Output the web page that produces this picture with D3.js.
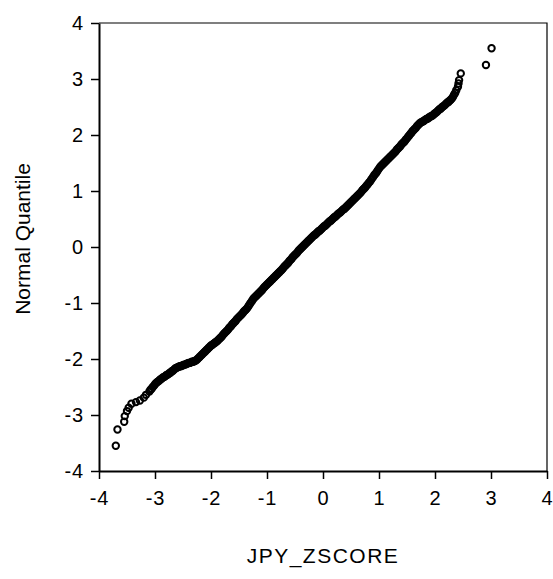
<!DOCTYPE html>
<html>
<head>
<meta charset="utf-8">
<script src="https://cdn.jsdelivr.net/npm/d3@7"></script>
<style>
  body { margin: 0; background: #fff; }
  svg text { font-family: "Liberation Sans", Arial, sans-serif; fill: #000; }
</style>
</head>
<body>
<div id="chart"></div>
<script>
// tick labels
const xTicks = [-4, -3, -2, -1, 0, 1, 2, 3, 4];
const yTicks = [-4, -3, -2, -1, 0, 1, 2, 3, 4];

// [JPY z-score, normal quantile] pairs
const lowerTail = [
  [-3.70, -3.55], [-3.67, -3.26], [-3.55, -3.12], [-3.54, -3.02], [-3.50, -2.93],
  [-3.47, -2.87], [-3.42, -2.80], [-3.34, -2.77], [-3.27, -2.74], [-3.20, -2.69],
  [-3.16, -2.64], [-3.10, -2.58]
];

const body = [
  [-3.08, -2.55], [-3.06, -2.53], [-3.04, -2.50], [-3.02, -2.48], [-3.00, -2.45],
  [-2.98, -2.43], [-2.96, -2.41], [-2.94, -2.40], [-2.92, -2.38], [-2.90, -2.36],
  [-2.88, -2.35], [-2.86, -2.33], [-2.84, -2.32], [-2.82, -2.31], [-2.80, -2.29],
  [-2.78, -2.28], [-2.76, -2.27], [-2.74, -2.25], [-2.72, -2.24], [-2.70, -2.22],
  [-2.68, -2.21], [-2.66, -2.19], [-2.64, -2.17], [-2.62, -2.16], [-2.60, -2.15],
  [-2.58, -2.14], [-2.56, -2.13], [-2.54, -2.13], [-2.52, -2.12], [-2.50, -2.11],
  [-2.48, -2.10], [-2.46, -2.10], [-2.44, -2.09], [-2.42, -2.08], [-2.40, -2.07],
  [-2.38, -2.07], [-2.36, -2.06], [-2.34, -2.05], [-2.32, -2.05], [-2.30, -2.04],
  [-2.28, -2.03], [-2.26, -2.02], [-2.24, -2.00], [-2.22, -1.98], [-2.20, -1.96],
  [-2.18, -1.94], [-2.16, -1.92], [-2.14, -1.90], [-2.12, -1.88], [-2.10, -1.86],
  [-2.08, -1.84], [-2.06, -1.82], [-2.04, -1.80], [-2.02, -1.78], [-2.00, -1.76],
  [-1.98, -1.75], [-1.96, -1.73], [-1.94, -1.72], [-1.92, -1.70], [-1.90, -1.69],
  [-1.88, -1.67], [-1.86, -1.65], [-1.84, -1.63], [-1.82, -1.61], [-1.80, -1.59],
  [-1.78, -1.56], [-1.76, -1.54], [-1.74, -1.52], [-1.72, -1.50], [-1.70, -1.48],
  [-1.68, -1.45], [-1.66, -1.43], [-1.64, -1.41], [-1.62, -1.38], [-1.60, -1.36],
  [-1.58, -1.34], [-1.56, -1.32], [-1.54, -1.29], [-1.52, -1.27], [-1.50, -1.25],
  [-1.48, -1.23], [-1.46, -1.21], [-1.44, -1.19], [-1.42, -1.16], [-1.40, -1.14],
  [-1.38, -1.12], [-1.36, -1.10], [-1.34, -1.07], [-1.32, -1.04], [-1.30, -1.01],
  [-1.28, -0.98], [-1.26, -0.95], [-1.24, -0.92], [-1.22, -0.90], [-1.20, -0.88],
  [-1.18, -0.86], [-1.16, -0.84], [-1.14, -0.82], [-1.12, -0.80], [-1.10, -0.78],
  [-1.08, -0.76], [-1.06, -0.73], [-1.04, -0.71], [-1.02, -0.69], [-1.00, -0.67],
  [-0.98, -0.65], [-0.96, -0.63], [-0.94, -0.61], [-0.92, -0.59], [-0.90, -0.57],
  [-0.88, -0.55], [-0.86, -0.53], [-0.84, -0.51], [-0.82, -0.49], [-0.80, -0.47],
  [-0.78, -0.45], [-0.76, -0.43], [-0.74, -0.41], [-0.72, -0.39], [-0.70, -0.36],
  [-0.68, -0.34], [-0.66, -0.32], [-0.64, -0.30], [-0.62, -0.28], [-0.60, -0.25],
  [-0.58, -0.23], [-0.56, -0.21], [-0.54, -0.18], [-0.52, -0.16], [-0.50, -0.14],
  [-0.48, -0.12], [-0.46, -0.10], [-0.44, -0.07], [-0.42, -0.05], [-0.40, -0.03],
  [-0.38, -0.01], [-0.36, 0.01], [-0.34, 0.03], [-0.32, 0.05], [-0.30, 0.07],
  [-0.28, 0.09], [-0.26, 0.11], [-0.24, 0.13], [-0.22, 0.15], [-0.20, 0.17],
  [-0.18, 0.19], [-0.16, 0.21], [-0.14, 0.22], [-0.12, 0.24], [-0.10, 0.26],
  [-0.08, 0.28], [-0.06, 0.29], [-0.04, 0.31], [-0.02, 0.33], [0.00, 0.35],
  [0.02, 0.37], [0.04, 0.38], [0.06, 0.40], [0.08, 0.42], [0.10, 0.44],
  [0.12, 0.46], [0.14, 0.47], [0.16, 0.49], [0.18, 0.51], [0.20, 0.53],
  [0.22, 0.54], [0.24, 0.56], [0.26, 0.58], [0.28, 0.60], [0.30, 0.61],
  [0.32, 0.63], [0.34, 0.65], [0.36, 0.67], [0.38, 0.68], [0.40, 0.70],
  [0.42, 0.72], [0.44, 0.74], [0.46, 0.76], [0.48, 0.78], [0.50, 0.80],
  [0.52, 0.82], [0.54, 0.84], [0.56, 0.86], [0.58, 0.88], [0.60, 0.90],
  [0.62, 0.92], [0.64, 0.94], [0.66, 0.96], [0.68, 0.98], [0.70, 1.01],
  [0.72, 1.03], [0.74, 1.05], [0.76, 1.07], [0.78, 1.10], [0.80, 1.12],
  [0.82, 1.15], [0.84, 1.17], [0.86, 1.20], [0.88, 1.23], [0.90, 1.26],
  [0.92, 1.29], [0.94, 1.31], [0.96, 1.34], [0.98, 1.37], [1.00, 1.40],
  [1.02, 1.43], [1.04, 1.45], [1.06, 1.47], [1.08, 1.49], [1.10, 1.51],
  [1.12, 1.53], [1.14, 1.55], [1.16, 1.57], [1.18, 1.59], [1.20, 1.61],
  [1.22, 1.63], [1.24, 1.65], [1.26, 1.67], [1.28, 1.69], [1.30, 1.71],
  [1.32, 1.74], [1.34, 1.76], [1.36, 1.78], [1.38, 1.80], [1.40, 1.83],
  [1.42, 1.85], [1.44, 1.87], [1.46, 1.89], [1.48, 1.92], [1.50, 1.94],
  [1.52, 1.97], [1.54, 1.99], [1.56, 2.02], [1.58, 2.04], [1.60, 2.07],
  [1.62, 2.09], [1.64, 2.11], [1.66, 2.13], [1.68, 2.16], [1.70, 2.18],
  [1.72, 2.20], [1.74, 2.22], [1.76, 2.23], [1.78, 2.24], [1.80, 2.25],
  [1.82, 2.27], [1.84, 2.28], [1.86, 2.29], [1.88, 2.30], [1.90, 2.32],
  [1.92, 2.33], [1.94, 2.34], [1.96, 2.35], [1.98, 2.37], [2.00, 2.39],
  [2.02, 2.40], [2.04, 2.42], [2.06, 2.44], [2.08, 2.46], [2.10, 2.47],
  [2.12, 2.49], [2.14, 2.51], [2.16, 2.52], [2.18, 2.54], [2.20, 2.56],
  [2.22, 2.58], [2.24, 2.59], [2.26, 2.61], [2.28, 2.63], [2.30, 2.65],
  [2.32, 2.68], [2.34, 2.72], [2.36, 2.75]
];

const upperTail = [
  [2.38, 2.80], [2.41, 2.86], [2.42, 2.92], [2.43, 2.98], [2.46, 3.10],
  [2.91, 3.25], [3.01, 3.55]
];

const points = [...lowerTail, ...body, ...upperTail].map(([z, q]) => ({ z, q }));

/* Sizing */
const width = 553, height = 579;
const margin = { top: 23, left: 99, right: 6, bottom: 108 };

const svg = d3
  .select("#chart")
  .append("svg")
  .attr("width", width)
  .attr("height", height);

const xScale = d3.scaleLinear().domain([-4, 4]).range([margin.left, width - margin.right]);
const yScale = d3.scaleLinear().domain([-4, 4]).range([height - margin.bottom, margin.top]);

const xAxis = d3.axisBottom(xScale)
  .tickValues(xTicks)
  .tickFormat((d) => String(d))
  .tickSize(8)
  .tickSizeOuter(0)
  .tickPadding(12);

const yAxis = d3.axisLeft(yScale)
  .tickValues(yTicks)
  .tickFormat((d) => String(d))
  .tickSize(8)
  .tickSizeOuter(0)
  .tickPadding(7);

// frame (top + right, thin)
svg.append("path")
  .attr("d", `M${margin.left},${margin.top}H${width - margin.right}V${height - margin.bottom}`)
  .attr("fill", "none")
  .attr("stroke", "#000")
  .attr("stroke-width", 1.2);

const gx = svg.append("g")
  .attr("transform", `translate(0,${height - margin.bottom})`)
  .call(xAxis);
const gy = svg.append("g")
  .attr("transform", `translate(${margin.left},0)`)
  .call(yAxis);

[gx, gy].forEach((g) => {
  g.select(".domain").attr("stroke", "#000").attr("stroke-width", 2);
  g.selectAll(".tick line").attr("stroke", "#000").attr("stroke-width", 1.5);
  g.selectAll(".tick text")
    .attr("font-size", 20)
    .attr("letter-spacing", 0.8)
    .attr("font-family", "Liberation Sans, Arial, sans-serif")
    .attr("fill", "#000");
});

// axis titles
svg.append("text")
  .attr("x", (margin.left + width - margin.right) / 2)
  .attr("y", 563)
  .attr("text-anchor", "middle")
  .attr("font-size", 21)
  .attr("letter-spacing", 1.5)
  .text("JPY_ZSCORE");

svg.append("text")
  .attr("transform", `translate(30,239) rotate(-90)`)
  .attr("text-anchor", "middle")
  .attr("font-size", 21)
  .text("Normal Quantile");

// points
svg.append("g")
  .selectAll("circle")
  .data(points)
  .join("circle")
  .attr("cx", (d) => xScale(d.z))
  .attr("cy", (d) => yScale(d.q))
  .attr("r", 3.2)
  .attr("fill", "none")
  .attr("stroke", "#000")
  .attr("stroke-width", 2);
</script>
</body>
</html>
